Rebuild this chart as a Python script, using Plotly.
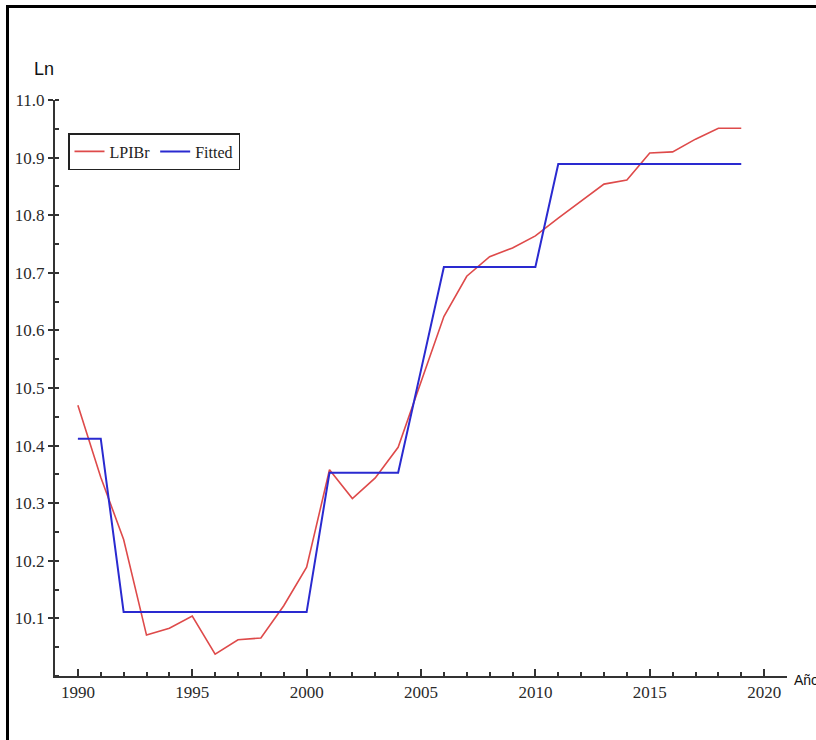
import plotly.graph_objects as go

years = list(range(1990, 2020))
lpibr = [10.470, 10.345, 10.237, 10.071, 10.083, 10.104, 10.038, 10.063, 10.066, 10.122,
         10.189, 10.358, 10.308, 10.344, 10.397, 10.512, 10.624, 10.694, 10.728, 10.743,
         10.764, 10.795, 10.824, 10.854, 10.861, 10.908, 10.910, 10.932, 10.951, 10.951]
fitted = [10.412, 10.412, 10.111, 10.111, 10.111, 10.111, 10.111, 10.111, 10.111, 10.111,
          10.111, 10.353, 10.353, 10.353, 10.353, 10.531, 10.710, 10.710, 10.710, 10.710,
          10.710, 10.889, 10.889, 10.889, 10.889, 10.889, 10.889, 10.889, 10.889, 10.889]
y_ticks = [10.1, 10.2, 10.3, 10.4, 10.5, 10.6, 10.7, 10.8, 10.9, 11.0]
x_ticks = [1990, 1995, 2000, 2005, 2010, 2015, 2020]

W, H = 816, 740
ML, MR, MT, MB = 55, 29, 100, 64
pw, ph = W - ML - MR, H - MT - MB


def px(x):
    return (x - ML) / pw


def py(y):
    return (H - MB - y) / ph


SERIF = "Liberation Serif"

fig = go.Figure()
fig.add_trace(go.Scatter(x=years, y=lpibr, mode="lines", name="LPIBr",
                         line=dict(color="#de4a4a", width=1.6)))
fig.add_trace(go.Scatter(x=years, y=fitted, mode="lines", name="Fitted",
                         line=dict(color="#2a2ad0", width=2)))

tick_font = dict(family=SERIF, size=17, color="#2a2a2a")

fig.update_layout(
    width=W, height=H,
    margin=dict(l=ML, r=MR, t=MT, b=MB),
    paper_bgcolor="white", plot_bgcolor="white",
    showlegend=True,
    legend=dict(orientation="h", x=px(68), y=py(133), xanchor="left", yanchor="top",
                bordercolor="#222222", borderwidth=1.5, bgcolor="white",
                font=dict(family=SERIF, size=16, color="#222222"),
                itemwidth=30, tracegroupgap=0),
    xaxis=dict(range=[1989, 2021], tickvals=x_ticks, ticks="inside", ticklen=7, tickwidth=1.5,
               tickcolor="#333333", showline=True, linecolor="#333333", linewidth=2,
               showgrid=False, zeroline=False, tickfont=tick_font,
               minor=dict(dtick=1, tick0=1989, ticks="inside", ticklen=4, tickcolor="#333333", tickwidth=1.5, showgrid=False)),
    yaxis=dict(range=[10.0, 11.0], tickvals=y_ticks, tickformat=".1f", ticks="outside", ticklen=5,
               tickwidth=1.5, tickcolor="#333333", showline=True, linecolor="#333333", linewidth=2,
               showgrid=False, zeroline=False, tickfont=tick_font,
               minor=dict(dtick=0.05, tick0=10.0, ticks="inside", ticklen=4, tickcolor="#333333", tickwidth=1.5, showgrid=False)),
    annotations=[
        dict(text="Ln", xref="paper", yref="paper", x=px(32), y=py(69), xanchor="left", yanchor="middle",
             showarrow=False, font=dict(family="Liberation Sans", size=18, color="#111111")),
        dict(text="Año", xref="paper", yref="paper", x=px(792), y=py(680), xanchor="left", yanchor="middle",
             showarrow=False, font=dict(family="Liberation Sans", size=14, color="#111111")),
    ],
    shapes=[
        dict(type="line", xref="paper", yref="paper", x0=px(7.5), x1=px(7.5), y0=py(760), y1=py(5),
             line=dict(color="black", width=3)),
        dict(type="line", xref="paper", yref="paper", x0=px(6), x1=px(840), y0=py(6.5), y1=py(6.5),
             line=dict(color="black", width=3)),
    ],
)

fig.write_html("out.html", config={"displayModeBar": False},
               post_script="document.body.style.margin='0px';document.body.style.overflow='hidden';")
